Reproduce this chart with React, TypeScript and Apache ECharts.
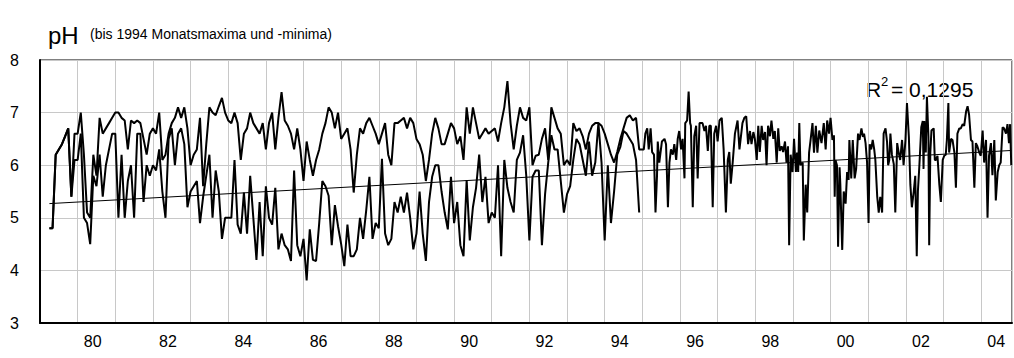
import React, { useEffect, useRef } from "react";
import * as echarts from "echarts";

// Monthly maxima / minima, April 1979 – December 1994 (one value per month)
const MONTHLY_START_YEAR = 1979;
const MONTHLY_START_MONTH = 4; // April
const monthlyMax = [
  4.8, 4.8, 6.2, 6.3, 6.4, 6.55, 6.7, 5.4, 6.6,
  6.6, 7.0, 6.2, 5.1, 5.0, 6.2, 5.8, 6.9, 6.6, 6.7, 6.8, 6.9,
  7.0, 7.0, 6.9, 6.85, 6.3, 6.85, 6.8, 6.85, 6.8, 6.5, 6.2, 6.6,
  6.7, 6.6, 7.0, 6.1, 6.2, 6.6, 6.8, 6.9, 7.1, 6.9, 7.1, 6.7,
  6.0, 6.2, 6.3, 6.9, 5.6, 6.4, 7.1, 7.0, 6.95, 7.12, 7.28, 7.0,
  6.85, 6.8, 7.0, 6.8, 6.1, 6.6, 6.7, 7.0, 6.8, 6.7, 6.6, 6.8,
  6.3, 6.8, 7.0, 6.3, 6.9, 7.39, 6.85, 6.75, 6.6, 6.3, 6.7, 6.3,
  5.7, 6.45, 6.1, 5.8, 6.1, 6.3, 6.6, 6.8, 7.1, 7.0, 6.7, 7.0,
  6.5, 6.6, 6.7, 6.3, 5.48, 6.2, 6.7, 6.6, 6.8, 6.9, 6.75, 6.6,
  6.4, 6.6, 6.8, 6.2, 6.0, 6.8, 6.8, 6.85, 6.9, 6.7, 6.9, 6.8,
  6.5, 6.4, 6.2, 5.7, 6.1, 6.6, 6.9, 6.7, 6.4, 6.4, 6.6, 6.8,
  6.7, 6.4, 6.55, 6.1, 7.1, 6.6, 7.1, 6.8, 6.5, 6.6, 6.7, 6.6,
  6.65, 6.7, 6.45, 6.8, 7.1, 7.6, 6.8, 6.3, 6.75, 7.1, 6.9, 6.85,
  7.1, 6.0, 6.18, 6.2, 6.5, 6.7, 6.1, 7.1, 6.9, 6.7, 6.6, 6.0,
  6.1, 6.0, 6.8, 6.65, 6.7, 6.55, 6.3, 6.6, 6.75, 6.8, 6.8, 6.75,
  6.6, 6.4, 6.2, 6.05, 6.25, 6.5, 6.7, 6.9, 6.95, 6.85, 6.9, 6.3,
];
const monthlyMin = [
  4.8, 4.8, 6.2, 6.3, 6.4, 6.55, 6.7, 5.4, 6.1,
  6.1, 6.6, 5.0, 4.9, 4.5, 5.8, 5.6, 6.2, 5.4, 6.0, 6.3, 6.6,
  6.6, 5.0, 6.2, 5.0, 5.7, 6.0, 5.0, 6.6, 6.6, 5.3, 6.0, 5.8,
  6.0, 5.9, 6.3, 5.5, 5.0, 6.5, 6.7, 6.0, 6.6, 6.7, 6.4, 5.2,
  5.5, 5.6, 5.7, 4.9, 5.4, 5.8, 6.2, 5.0, 5.9, 5.5, 4.6, 5.0,
  5.0, 5.0, 6.1, 4.87, 4.7, 5.48, 4.7, 5.8, 5.0, 4.2, 5.3, 4.27,
  5.6, 5.0, 4.87, 5.57, 4.4, 4.7, 4.48, 4.4, 4.18, 5.9, 4.48, 4.27,
  4.6, 3.81, 4.78, 4.2, 4.18, 4.9, 5.7, 5.6, 5.42, 4.48, 5.24, 4.84,
  4.5, 4.08, 4.87, 4.27, 4.27, 4.4, 5.0, 4.6, 5.15, 5.78, 4.6, 4.9,
  4.8, 6.12, 4.7, 4.48, 4.6, 5.3, 5.1, 5.4, 5.1, 5.48, 5.0, 4.4,
  4.7, 5.5, 4.7, 4.18, 5.3, 5.78, 6.0, 6.0, 5.5, 5.1, 4.78, 5.78,
  4.9, 5.3, 4.48, 4.27, 5.72, 4.57, 5.2, 5.57, 6.2, 5.3, 5.78, 4.9,
  5.1, 5.0, 6.0, 4.27, 6.1, 5.57, 5.3, 5.1, 6.1, 6.24, 6.57, 5.8,
  4.57, 5.78, 5.9, 5.9, 4.48, 5.45, 6.05, 6.57, 6.3, 6.3, 5.7, 5.1,
  5.45, 5.6, 6.1, 6.5, 6.4, 6.1, 5.8, 6.45, 5.8, 6.05, 6.8, 6.05,
  4.57, 6.0, 4.9, 5.5, 6.2, 6.35, 6.65, 6.6, 6.5, 6.4, 6.1, 5.1,
];

// Individual measurements from 1995 on (decimal year, pH)
const sampleDates = [
  1995.04, 1995.08, 1995.13, 1995.17, 1995.22, 1995.26, 1995.31, 1995.35, 1995.39, 1995.41,
  1995.45, 1995.52, 1995.59, 1995.63, 1995.68, 1995.72, 1995.76, 1995.81, 1995.85, 1995.9,
  1995.94, 1995.98, 1996.03, 1996.07, 1996.12, 1996.14, 1996.19, 1996.23, 1996.27, 1996.29,
  1996.34, 1996.38, 1996.43, 1996.47, 1996.52, 1996.56, 1996.6, 1996.65, 1996.69, 1996.74,
  1996.78, 1996.82, 1996.87, 1996.91, 1996.96, 1997.0, 1997.05, 1997.11, 1997.16, 1997.22,
  1997.27, 1997.31, 1997.35, 1997.4, 1997.46, 1997.53, 1997.58, 1997.66, 1997.71, 1997.76,
  1997.81, 1997.86, 1997.9, 1997.95, 1997.99, 1998.04, 1998.08, 1998.12, 1998.17, 1998.21,
  1998.26, 1998.3, 1998.34, 1998.39, 1998.43, 1998.48, 1998.52, 1998.57, 1998.61, 1998.65,
  1998.7, 1998.74, 1998.79, 1998.83, 1998.87, 1998.9, 1998.94, 1998.99, 1999.03, 1999.08,
  1999.11, 1999.14, 1999.17, 1999.2, 1999.26, 1999.29, 1999.34, 1999.38, 1999.43, 1999.47,
  1999.52, 1999.56, 1999.61, 1999.65, 1999.7, 1999.76, 1999.82, 1999.87, 1999.91, 1999.96,
  2000.0, 2000.05, 2000.09, 2000.11, 2000.13, 2000.17, 2000.2, 2000.24, 2000.26, 2000.31,
  2000.35, 2000.4, 2000.44, 2000.48, 2000.5, 2000.55, 2000.59, 2000.64, 2000.68, 2000.73,
  2000.77, 2000.82, 2000.86, 2000.89, 2000.93, 2000.97, 2001.01, 2001.04, 2001.08, 2001.12,
  2001.16, 2001.19, 2001.24, 2001.28, 2001.32, 2001.37, 2001.41, 2001.46, 2001.5, 2001.53,
  2001.56, 2001.59, 2001.63, 2001.68, 2001.72, 2001.77, 2001.81, 2001.85, 2001.9, 2001.94,
  2001.99, 2002.03, 2002.08, 2002.12, 2002.16, 2002.21, 2002.25, 2002.29, 2002.32, 2002.36,
  2002.41, 2002.45, 2002.47, 2002.49, 2002.53, 2002.56, 2002.6, 2002.62, 2002.65, 2002.68,
  2002.74, 2002.77, 2002.8, 2002.84, 2002.89, 2002.93, 2002.98, 2003.02, 2003.06, 2003.09,
  2003.13, 2003.15, 2003.2, 2003.24, 2003.29, 2003.33, 2003.37, 2003.42, 2003.46, 2003.51,
  2003.55, 2003.6, 2003.64, 2003.68, 2003.73, 2003.77, 2003.82, 2003.86, 2003.9, 2003.95,
  2003.99, 2004.04, 2004.08, 2004.13, 2004.17, 2004.21, 2004.26, 2004.3, 2004.35, 2004.39,
  2004.44, 2004.48, 2004.52, 2004.57, 2004.61, 2004.66, 2004.7, 2004.74, 2004.77, 2004.8,
];
const sampleValues = [
  6.3, 6.6, 6.7, 6.3, 6.7, 6.25, 6.2, 5.1, 5.8, 6.45,
  6.05, 6.45, 6.5, 6.4, 5.2, 6.05, 6.3, 6.2, 6.4, 6.1,
  6.5, 6.65, 6.3, 6.5, 5.75, 6.8, 6.85, 7.4, 6.8, 6.75,
  5.2, 6.55, 6.75, 5.75, 6.8, 6.8, 6.8, 6.65, 6.75, 6.27,
  6.75, 6.75, 5.2, 6.6, 6.75, 6.45, 6.85, 6.9, 6.3, 5.1,
  6.1, 6.25, 5.65, 6.05, 6.6, 6.85, 6.3, 6.8, 6.9, 6.93,
  6.4, 6.65, 6.4, 6.63, 6.5, 6.1, 6.75, 6.25, 6.75, 6.48,
  6.63, 6.0, 6.75, 6.55, 6.85, 6.5, 6.65, 6.05, 6.7, 6.27,
  6.36, 6.25, 6.45, 6.05, 6.36, 4.48, 6.2, 5.87, 6.5, 5.87,
  6.24, 5.87, 6.8, 6.0, 6.05, 4.57, 5.63, 5.1, 6.24, 6.48,
  6.8, 6.24, 6.75, 6.24, 6.66, 6.42, 6.8, 6.3, 6.85, 6.6,
  6.9, 6.48, 6.57, 5.4, 6.1, 6.0, 4.45, 5.96, 5.63, 4.39,
  5.5, 5.27, 5.87, 5.72, 6.48, 5.75, 6.48, 5.75, 5.93, 6.6,
  6.48, 6.7, 6.54, 6.6, 6.42, 6.05, 4.9, 6.4, 6.3, 6.48,
  6.3, 6.1, 5.4, 5.1, 5.4, 5.1, 6.6, 6.7, 6.45, 6.0,
  6.1, 6.6, 6.2, 6.02, 5.1, 6.42, 6.24, 6.1, 6.48, 6.0,
  6.48, 7.18, 6.54, 5.63, 5.2, 5.5, 5.8, 4.27, 5.5, 6.0,
  6.72, 6.84, 5.93, 6.84, 6.24, 7.3, 6.54, 4.48, 6.24, 6.66,
  6.7, 6.1, 6.1, 6.18, 5.63, 5.3, 6.1, 6.18, 6.2, 6.48,
  7.18, 6.24, 6.5, 6.48, 6.24, 5.57, 6.6, 6.7, 6.7, 6.78,
  6.75, 7.02, 7.12, 6.96, 6.48, 6.45, 5.57, 6.42, 6.36, 6.24,
  6.18, 6.66, 6.05, 6.48, 5.0, 6.18, 6.42, 5.81, 6.48, 5.33,
  5.87, 6.0, 6.05, 6.72, 6.7, 6.6, 6.78, 6.42, 6.78, 6.0,
];

// Linear trend (as shown in the original) and its label
const trendStart = [1979.25, 5.27];
const trendEnd = [2004.8, 6.28];
const trendR2 = "0,1295";

const yTicks = [3, 4, 5, 6, 7, 8];
const xLabelYears = [1980, 1982, 1984, 1986, 1988, 1990, 1992, 1994, 1996, 1998, 2000, 2002, 2004];
const X_MIN = 1979;
const X_MAX = 2004.82;

const FONT = '"Liberation Sans", Arial, Helvetica, sans-serif';

function monthDate(i: number) {
  return MONTHLY_START_YEAR + (MONTHLY_START_MONTH - 1 + i) / 12;
}

export default function App() {
  const ref = useRef<HTMLDivElement>(null);

  useEffect(() => {
    document.body.style.margin = "0";
    if (!ref.current) return;
    const chart = echarts.init(ref.current, undefined, { renderer: "svg" });

    const maxData = monthlyMax.map((v, i) => [monthDate(i), v]);
    const samples = sampleDates.map((d, i) => [d, sampleValues[i]]);
    const minData = monthlyMin.map((v, i) => [monthDate(i), v]);

    const lineStyle = { color: "#000", width: 2 };

    chart.setOption({
      animation: false,
      backgroundColor: "#fff",
      grid: {
        left: 40,
        right: 2,
        top: 60,
        bottom: 35,
        show: true,
        borderColor: "#000",
        borderWidth: 1,
        backgroundColor: "transparent",
      },
      xAxis: {
        type: "value",
        min: X_MIN,
        max: X_MAX,
        interval: 1,
        axisLine: { show: true, lineStyle: { color: "#000", width: 2 } },
        axisTick: { show: false },
        splitLine: { show: true, lineStyle: { color: "#c8c8c8", width: 1 } },
        axisLabel: {
          customValues: xLabelYears.map((y) => y + 0.4),
          formatter: (v: number) => String(Math.round(v - 0.4) % 100).padStart(2, "0"),
          color: "#000",
          fontSize: 16,
          fontFamily: FONT,
          margin: 10,
        },
      },
      yAxis: {
        type: "value",
        min: yTicks[0],
        max: yTicks[yTicks.length - 1],
        interval: 1,
        axisLine: { show: true, lineStyle: { color: "#000", width: 2 } },
        axisTick: { show: false },
        splitLine: { show: true, lineStyle: { color: "#c8c8c8", width: 1 } },
        axisLabel: { color: "#000", fontSize: 16, fontFamily: FONT, margin: 21 },
      },
      series: [
        {
          type: "line",
          data: maxData.concat(samples),
          showSymbol: false,
          symbol: "none",
          lineStyle,
          z: 3,
        },
        {
          type: "line",
          data: minData,
          showSymbol: false,
          symbol: "none",
          lineStyle,
          z: 3,
        },
        {
          type: "line",
          data: [trendStart, trendEnd],
          showSymbol: false,
          symbol: "none",
          lineStyle: { color: "#000", width: 1 },
          z: 4,
        },
      ],
      graphic: [
        {
          type: "text",
          x: 48,
          y: 35,
          style: { text: "pH", fontSize: 24, fontFamily: FONT, fill: "#000", align: "left", verticalAlign: "middle" },
        },
        {
          type: "text",
          x: 90,
          y: 34,
          style: {
            text: "(bis 1994 Monatsmaxima und -minima)",
            fontSize: 14,
            fontFamily: FONT,
            fill: "#000",
            align: "left",
            verticalAlign: "middle",
          },
        },
        {
          type: "group",
          x: 866,
          y: 89,
          children: [
            { type: "text", x: 0, y: 0, style: { text: "R", fontSize: 21, fontFamily: FONT, fill: "#000", verticalAlign: "middle" } },
            { type: "text", x: 15, y: -8, style: { text: "2", fontSize: 13, fontFamily: FONT, fill: "#000", verticalAlign: "middle" } },
            { type: "text", x: 25, y: 0, style: { text: "= " + trendR2, fontSize: 21, fontFamily: FONT, fill: "#000", verticalAlign: "middle" } },
          ],
        },
      ],
    });

    return () => chart.dispose();
  }, []);

  return (
    <div
      ref={ref}
      style={{ position: "absolute", left: 0, top: 0, width: 1014, height: 358, background: "#fff" }}
    />
  );
}
